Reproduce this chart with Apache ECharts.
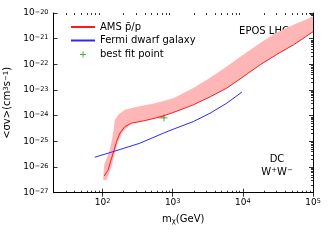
<!DOCTYPE html>
<html><head><meta charset="utf-8">
<script src="https://cdn.jsdelivr.net/npm/echarts@6/dist/echarts.min.js"></script>
<style>html,body{margin:0;padding:0;background:#fff}#c{width:332px;height:242px}</style>
</head><body><div id="c"></div>
<script>
// ---- data ----
const amsMass  = [105.4, 120.2, 134.5, 146.5, 158.5, 176.7, 208.3, 259.7, 402, 558.6, 726.6, 1078, 1970, 3411, 5906, 10100, 17660, 29910, 52840, 100000];
const amsSigma = [4.49e-27, 7.69e-27, 2.20e-26, 4.64e-26, 9.77e-26, 2.08e-25, 3.77e-25, 5.11e-25, 6.46e-25, 8.0e-25, 9.66e-25, 1.41e-24, 2.64e-24, 5.42e-24, 1.19e-23, 3.27e-23, 9.62e-23, 2.36e-22, 5.79e-22, 1.86e-21];

const bandUpperMass  = [102, 105.4, 127.2, 141.7, 149.9, 167.1, 208.3, 289.3, 558.6, 1020, 1970, 3411, 5906, 10100, 17660, 29910, 52840, 100000];
const bandUpperSigma = [3.13e-27, 1.21e-26, 4.64e-26, 2.08e-25, 6.87e-25, 1.08e-24, 1.69e-24, 2.15e-24, 3.08e-24, 4.83e-24, 1.19e-23, 2.99e-23, 8.26e-23, 2.36e-22, 6.76e-22, 1.70e-21, 3.50e-21, 7.36e-21];

const bandLowerMass  = [114, 134.5, 149.9, 167.1, 197, 232.2, 259.7, 402, 558.6, 726.6, 1078, 1970, 3411, 5906, 10100, 17660, 29910, 52840, 100000];
const bandLowerSigma = [3.13e-27, 1.04e-26, 3.45e-26, 9.77e-26, 2.40e-25, 3.77e-25, 5.11e-25, 6.46e-25, 8.0e-25, 9.66e-25, 1.41e-24, 2.64e-24, 5.42e-24, 1.19e-23, 3.27e-23, 9.62e-23, 2.36e-22, 5.79e-22, 1.86e-21];

const fermiMass  = [77.6, 141.7, 341.1, 734, 1020, 1970, 3411, 5906, 9676];
const fermiSigma = [2.41e-26, 3.98e-26, 8.47e-26, 2.08e-25, 2.98e-25, 5.90e-25, 1.25e-24, 3.08e-24, 8.28e-24];

const bestFitMass  = [751];
const bestFitSigma = [8.2e-25];
const contourMass  = [690];
const contourSigma = [9.0e-25];

const xMajorTicks = [100, 1000, 10000, 100000];
const yMajorTicks = [1e-27, 1e-26, 1e-25, 1e-24, 1e-23, 1e-22, 1e-21, 1e-20];
const seriesNames = ['AMS p\u0304/p', 'Fermi dwarf galaxy', 'best fit point'];

// minor ticks (2..9 x each decade)
function minorTicks(lo, hi, d0, d1) {
  const out = [];
  for (let d = d0; d <= d1; d++) for (let k = 2; k <= 9; k++) {
    const v = k * Math.pow(10, d);
    if (v >= lo && v <= hi) out.push(v);
  }
  return out;
}
const xMinorTicks = minorTicks(20, 1e5, 1, 4);
const yMinorTicks = minorTicks(1e-27, 1e-20, -27, -21);

const FONT = 'DejaVu Sans';
const pow10Label = v => {
  const e = Math.round(Math.log10(v));
  return '{b|10}{s|' + (e < 0 ? '\u2212' + (-e) : e) + '}';
};
const tickRich = {
  b: {fontFamily: FONT, fontSize: 9, color: '#000'},
  s: {fontFamily: FONT, fontSize: 6.5, color: '#000', verticalAlign: 'top'}
};

const xRange = {type: 'log', logBase: 10, min: 20, max: 1e5};
const yRange = {type: 'log', logBase: 10, min: 1e-27, max: 1e-20};
const blackLine = {show: true, lineStyle: {color: '#000', width: 1}};
const noLine = {show: false};

function axisSet(range, side, major, minor, withLabels, extra) {
  const a = Object.assign({}, range, {
    position: side,
    axisLine: blackLine,
    splitLine: {show: false},
    axisTick: {show: true, inside: true, length: 4, customValues: major, lineStyle: {color: '#000', width: 0.8}},
    axisLabel: withLabels ? {show: true, customValues: major, formatter: pow10Label, rich: tickRich, margin: 5, color: '#000'} : {show: false}
  }, extra || {});
  const list = [a];
  if (minor) {
    list.push(Object.assign({}, range, {
      position: side,
      axisLine: noLine,
      splitLine: {show: false},
      axisTick: {show: true, inside: true, length: 2, customValues: minor, lineStyle: {color: '#000', width: 0.8}},
      axisLabel: {show: false}
    }));
  }
  return list;
}

const xAxes = [].concat(
  axisSet(xRange, 'bottom', xMajorTicks, xMinorTicks, true, {
    name: '{m|m}{sub|\u03c7}{m|(GeV)}', nameLocation: 'middle', nameGap: 22,
    nameTextStyle: {rich: {m: {fontFamily: FONT, fontSize: 10, color: '#000'}, sub: {fontFamily: FONT, fontSize: 7, color: '#000', verticalAlign: 'bottom'}}}
  }),
  axisSet(xRange, 'top', xMajorTicks, xMinorTicks, false)
);
const yAxes = [].concat(
  axisSet(yRange, 'left', yMajorTicks, null, true, {
    name: '{m|<\u03c3v>(cm}{s|3}{m|s}{s|\u22121}{m|)}', nameLocation: 'middle', nameGap: 33,
    nameTextStyle: {rich: {m: {fontFamily: FONT, fontSize: 10, color: '#000'}, s: {fontFamily: FONT, fontSize: 7, color: '#000', verticalAlign: 'top'}}}
  }),
  axisSet(yRange, 'right', yMajorTicks, yMinorTicks, false)
);

const zip = (a, b) => a.map((v, i) => [v, b[i]]);
const plusPath = 'path://M0,5L10,5M5,0L5,10';

const chart = echarts.init(document.getElementById('c'), null, {renderer: 'canvas'});
chart.setOption({
  animation: false,
  backgroundColor: '#fff',
  grid: {left: 53.5, right: 19, top: 13, bottom: 49.3, containLabel: false, outerBoundsMode: 'none'},
  xAxis: xAxes,
  yAxis: yAxes,
  legend: {
    orient: 'vertical', left: 65, top: 17, itemWidth: 24, itemHeight: 6, itemGap: 3.5,
    textStyle: {fontFamily: FONT, fontSize: 10, color: '#000'},
    data: [
      {name: seriesNames[0], itemStyle: {opacity: 0}},
      {name: seriesNames[1], itemStyle: {opacity: 0}},
      {name: seriesNames[2], itemStyle: {borderWidth: 1, borderColor: '#1f9e1f', color: 'none'}}
    ]
  },
  graphic: [
    {type: 'text', x: 264, y: 31, style: {text: 'EPOS LHC', fontFamily: FONT, fontSize: 10, fill: '#000', align: 'center', verticalAlign: 'middle'}},
    {type: 'text', x: 277, y: 159, style: {text: 'DC', fontFamily: FONT, fontSize: 10, fill: '#000', align: 'center', verticalAlign: 'middle'}},
    {type: 'text', x: 277, y: 172, style: {text: '{b|W}{s|+}{b|W}{s|\u2212}', align: 'center', verticalAlign: 'middle',
      rich: {b: {fontFamily: FONT, fontSize: 10, fill: '#000'}, s: {fontFamily: FONT, fontSize: 7, fill: '#000', verticalAlign: 'top'}}}}
  ],
  series: [
    {
      type: 'custom', name: 'band', clip: true, silent: true, z: 1,
      data: [[1000, 1e-24]],
      renderItem: (params, api) => {
        const pts = [];
        for (let i = 0; i < bandUpperMass.length; i++) pts.push(api.coord([bandUpperMass[i], bandUpperSigma[i]]));
        for (let i = bandLowerMass.length - 1; i >= 0; i--) pts.push(api.coord([bandLowerMass[i], bandLowerSigma[i]]));
        return {type: 'polygon', shape: {points: pts}, style: {fill: '#ffb6b6', stroke: null}};
      }
    },
    {
      type: 'line', name: seriesNames[0], data: zip(amsMass, amsSigma), symbol: 'none', z: 3,
      lineStyle: {color: '#ff1a1a', width: 1}, itemStyle: {color: '#ff1a1a'}
    },
    {
      type: 'line', name: seriesNames[1], data: zip(fermiMass, fermiSigma), symbol: 'none', z: 3, smooth: false,
      lineStyle: {color: '#2a2aff', width: 1}, itemStyle: {color: '#2a2aff'}
    },
    {
      type: 'scatter', name: 'contour', data: zip(contourMass, contourSigma), symbol: 'circle', symbolSize: [9, 3], symbolRotate: 15, z: 2,
      itemStyle: {color: 'rgba(255,90,90,0.6)'}, silent: true
    },
    {
      type: 'scatter', name: seriesNames[2], data: zip(bestFitMass, bestFitSigma), symbol: plusPath, symbolSize: 7, z: 4,
      itemStyle: {color: 'none', borderColor: '#1f9e1f', borderWidth: 1}
    }
  ]
});
</script></body></html>
